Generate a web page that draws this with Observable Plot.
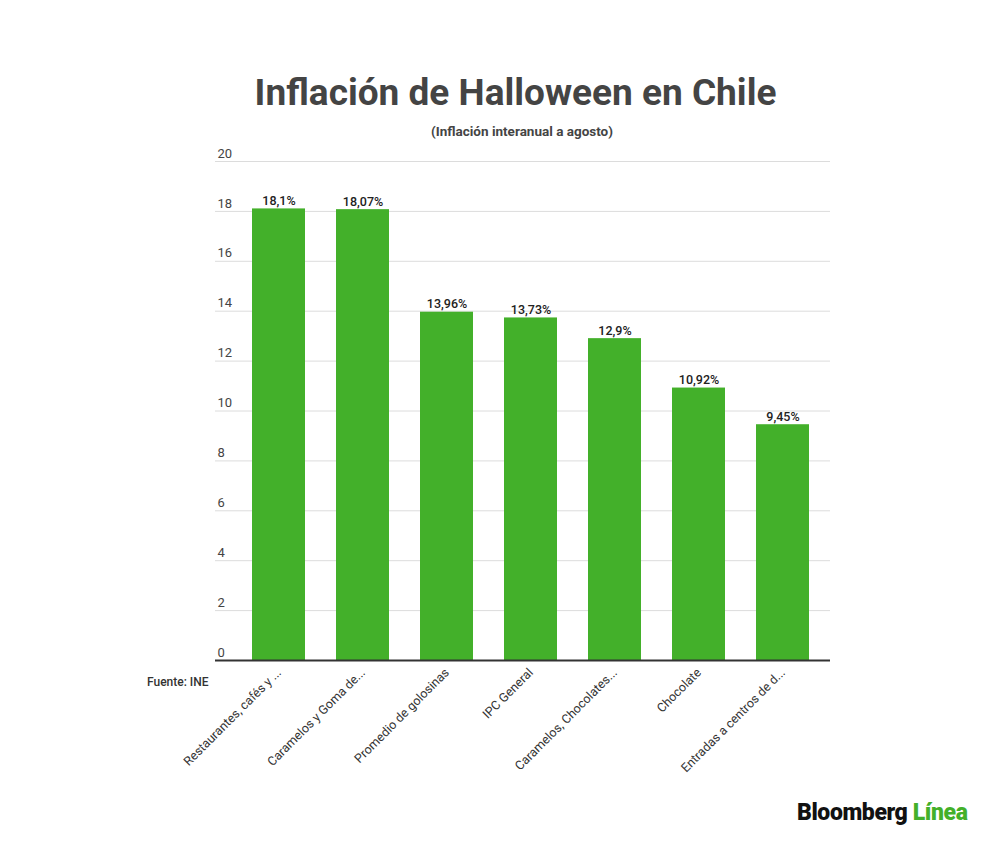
<!DOCTYPE html>
<html>
<head>
<meta charset="utf-8">
<script src="https://cdn.jsdelivr.net/npm/d3@7"></script>
<script src="https://cdn.jsdelivr.net/npm/@observablehq/plot@0.6"></script>
<style>
  body { margin: 0; background: #fff; font-family: Roboto, "Open Sans", sans-serif; }
  #page { position: relative; width: 1000px; height: 843px; overflow: hidden; background: #fff; }
  #title { position: absolute; left: 0; top: 74px; width: 1031px; text-align: center;
           font-size: 37px; line-height: 38px; font-weight: 700; color: #444; }
  #subtitle { position: absolute; left: 0; top: 124px; width: 1044px; text-align: center;
              font-size: 13.5px; line-height: 14px; font-weight: 700; color: #444; }
  #chart { position: absolute; left: 0; top: 140px; }
  #source { position: absolute; left: 147px; top: 675px; font-size: 12px; font-weight: 500; color: #333; }
  #logo { position: absolute; left: 797px; top: 799px; font-size: 23px; font-weight: 900;
          letter-spacing: -0.4px; color: #111; }
  #logo span { color: #43b02a; }
</style>
</head>
<body>
<div id="page">
  <div id="title">Inflación de Halloween en Chile</div>
  <div id="subtitle">(Inflación interanual a agosto)</div>
  <div id="chart"></div>
  <div id="source">Fuente: INE</div>
  <div id="logo">Bloomberg <span>Línea</span></div>
</div>
<script>
// categorías tal como aparecen (truncadas) en el gráfico original
const categorias = [
  "Restaurantes, cafés y ...",
  "Caramelos y Goma de...",
  "Promedio de golosinas",
  "IPC General",
  "Caramelos, Chocolates...",
  "Chocolate",
  "Entradas a centros de d..."
]
const inflacion = [18.1, 18.07, 13.96, 13.73, 12.9, 10.92, 9.45]
const yTicks = [0, 2, 4, 6, 8, 10, 12, 14, 16, 18, 20]

const data = categorias.map((c, i) => ({categoria: c, valor: inflacion[i]}))
const etiqueta = d => String(d.valor).replace(".", ",") + "%"

const verde = "#43b02a"

let chart = Plot.plot({
  width: 1000,
  height: 660,
  marginTop: 21,
  marginBottom: 140,
  marginLeft: 215,
  marginRight: 170,
  style: { fontFamily: "Roboto", fontSize: 12.5, color: "#333", background: "transparent" },
  x: {
    domain: categorias,
    paddingInner: 0.375,
    paddingOuter: 0,
    insetLeft: 35,
    insetRight: 19
  },
  y: { domain: [0, 20] },
  marks: [
    Plot.ruleY(yTicks.filter(t => t > 0), { stroke: "#dcdcdc", strokeWidth: 1 }),
    Plot.barY(data, { x: "categoria", y: "valor", fill: verde }),
    Plot.text(data, {
      x: "categoria", y: "valor", text: etiqueta,
      lineAnchor: "bottom", dy: -4,
      fontSize: 12.5, fontWeight: 500, fill: "#222"
    }),
    Plot.ruleY([0], { stroke: "#333", strokeWidth: 2 }),
    Plot.axisY({
      ticks: yTicks, tickSize: 0, tickPadding: 0,
      textAnchor: "start", dx: 2, dy: -8,
      fontSize: 13, fill: "#444", label: null
    }),
    Plot.axisX({
      tickSize: 0, tickPadding: 10, tickRotate: -45,
      fontSize: 12.5, fill: "#333", label: null
    })
  ]
})

d3.select('#chart').append(() => chart)
</script>
</body>
</html>
